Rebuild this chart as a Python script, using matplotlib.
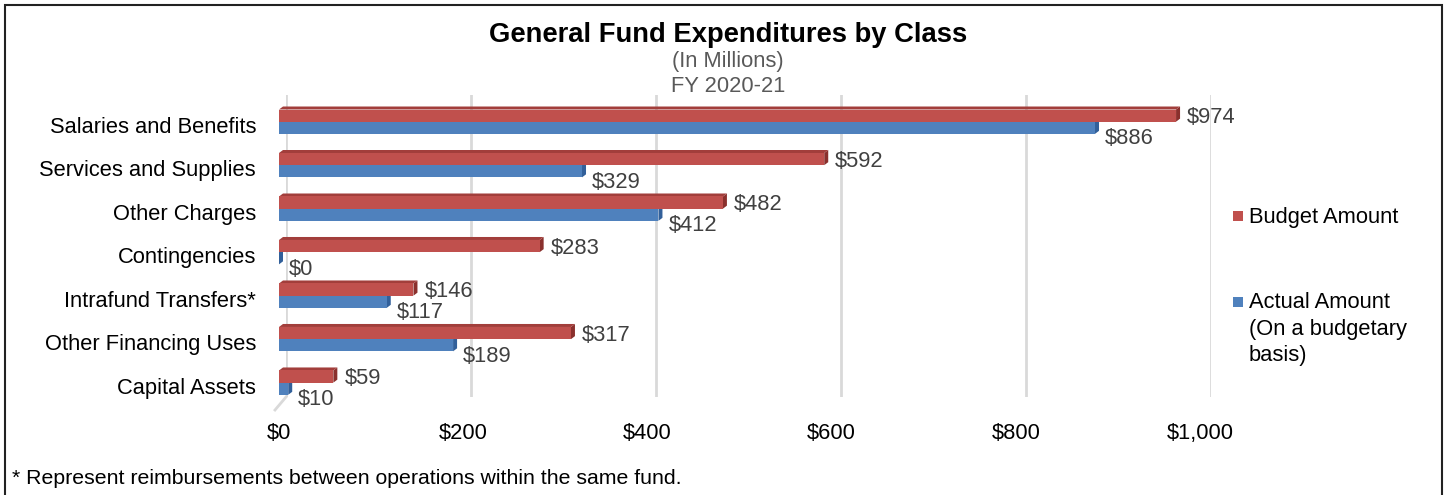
import matplotlib
matplotlib.use("Agg")
import matplotlib.pyplot as plt
import numpy as np
from matplotlib.patches import Polygon, Rectangle
from matplotlib.lines import Line2D

# data
categories = ["Salaries and Benefits", "Services and Supplies", "Other Charges",
              "Contingencies", "Intrafund Transfers*", "Other Financing Uses",
              "Capital Assets"]
budget = [974, 592, 482, 283, 146, 317, 59]
actual = [886, 329, 412, 0, 117, 189, 10]
series = ["Budget Amount", "Actual Amount\n(On a budgetary\nbasis)"]
xticks = [0, 200, 400, 600, 800, 1000]
xtick_labels = ["$0", "$200", "$400", "$600", "$800", "$1,000"]

plt.rcParams['font.family'] = ['Liberation Sans', 'DejaVu Sans']
FS = 15.75

W, H = 1445, 495
fig = plt.figure(figsize=(W / 100, H / 100), dpi=100)

# back wall of the 3D chart: only carries the gridlines
ax_back = fig.add_axes([286 / W, 1 - 397 / H, 925 / W, (397 - 95) / H], zorder=0)
ax_back.set_xlim(0, 1000)
ax_back.set_xticks(xticks)
ax_back.set_yticks([])
ax_back.tick_params(length=0, labelbottom=False)
ax_back.grid(axis="x", color="#D9D9D9", lw=2)
ax_back.patch.set_visible(False)
for s in ax_back.spines.values():
    s.set_visible(False)

ax = fig.add_axes([279 / W, 1 - 412 / H, 921 / W, (412 - 94.5) / H], zorder=1)
ax.patch.set_visible(False)
ax.set_xlim(0, 1000)
ax.set_ylim(-0.6, 6.7)

# floor edge at $0
p_back = fig.transFigure.inverted().transform(ax_back.transData.transform((0, 0)))
p_front = fig.transFigure.inverted().transform(ax.transData.transform((0, -0.6)))
fig.add_artist(Line2D([p_back[0], p_front[0] - 4 / W], [p_back[1], p_front[1] + 2 / H],
                      transform=fig.transFigure, color="#D9D9D9", lw=2, zorder=0))

# data units per pixel
ux = 1000 / 921
uy = 7.3 / (412 - 94.5)

red, red_top, red_side = "#C0504D", "#A23E3B", "#8A302D"
blue, blue_side = "#4F81BD", "#32609A"

ypos = np.arange(len(categories))[::-1]
h = 0.28
dx, dy = 4 * ux, 3 * uy


def faces(vals, yc, col_side, col_top, z):
    for v, y in zip(vals, yc):
        y0, y1 = y - h / 2, y + h / 2
        ax.add_patch(Polygon([(v, y0), (v + dx, y0 + dy), (v + dx, y1 + dy), (v, y1)],
                             closed=True, color=col_side, lw=0, zorder=z))
        if col_top:
            ax.add_patch(Polygon([(0, y1), (v, y1), (v + dx, y1 + dy), (dx, y1 + dy)],
                                 closed=True, color=col_top, lw=0, zorder=z))


yb = ypos - 0.065
yr = ypos + 0.215
faces(actual, yb, blue_side, None, 2)
ax.barh(yb, actual, height=h, color=blue, lw=0, zorder=2.1)
faces(budget, yr, red_side, red_top, 2.2)
ax.barh(yr, budget, height=h, color=red, lw=0, zorder=2.3)

for v, y in zip(budget, yr):
    ax.annotate(f"${v:,}", xy=(v, y), xytext=(11, -2), textcoords="offset pixels",
                ha="left", va="center", fontsize=FS, color="#404040")
for v, y in zip(actual, yb):
    ax.annotate(f"${v:,}", xy=(v, y), xytext=(10, -11), textcoords="offset pixels",
                ha="left", va="center", fontsize=FS, color="#404040")

ax.set_yticks(ypos, categories)
ax.set_xticks(xticks, xtick_labels)
ax.tick_params(axis="y", length=0, pad=16.5, labelsize=FS, labelcolor="#000000")
ax.tick_params(axis="x", length=0, pad=8, labelsize=FS, labelcolor="#000000")
for s in ax.spines.values():
    s.set_visible(False)

# titles
fig.text(728 / W, 1 - 35 / H, "General Fund Expenditures by Class", ha="center",
         va="center", fontsize=19.7, fontweight="bold")
fig.text(728 / W, 1 - 62 / H, "(In Millions)", ha="center", va="center",
         fontsize=FS, color="#595959")
fig.text(728 / W, 1 - 87 / H, "FY 2020-21", ha="center", va="center",
         fontsize=FS, color="#595959")

# legend
for (label, col, yc) in [(series[0], red, 216), (series[1], blue, 301.5)]:
    fig.patches.append(Rectangle((1233 / W, 1 - (yc + 5) / H), 10 / W, 10 / H,
                                 transform=fig.transFigure, color=col, lw=0))
    fig.text(1249 / W, 1 - (yc - 9) / H, label, ha="left", va="top",
             fontsize=FS, color="#000000", linespacing=1.32)

fig.text(12 / W, 1 - 478 / H, "* Represent reimbursements between operations within the same fund.",
         ha="left", va="center", fontsize=15.35, color="#000000")

# frame round the whole picture
fig.patches.append(Rectangle((5 / W, -0.02), 1437 / W, 1 - 5 / H + 0.02,
                             transform=fig.transFigure, fill=False,
                             edgecolor="#222222", lw=1.5))

fig.savefig("out.png", dpi=100)
